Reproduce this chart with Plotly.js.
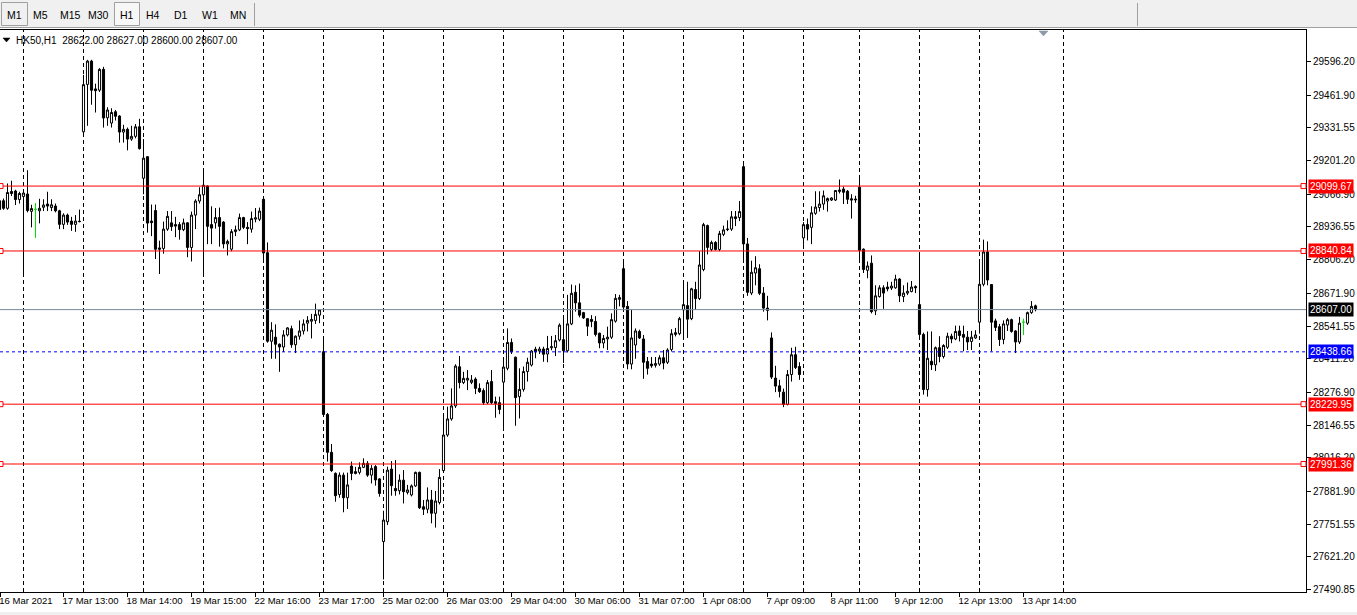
<!DOCTYPE html>
<html>
<head>
<meta charset="utf-8">
<script src="https://cdn.plot.ly/plotly-3.0.1.min.js"></script>
<style>
html,body{margin:0;padding:0;background:#ffffff;overflow:hidden}
#chart{width:1357px;height:615px}
</style>
</head>
<body>
<div id="chart"></div>
<script>
// ---- data (H1 bars, HK50, 16 Mar 2021 - 13 Apr 2021) ----
const openP = [
29041,29041,29011,29078,29080,29046,29058,29068,28999,29007,
29001,29015,29028,29014,29020,29001,28947,28984,28960,28947,
28958,29316,29505,29598,29487,29482,29565,29372,29351,29396,
29379,29315,29326,29287,29298,29336,29131,29217,28960,29002,
28853,28851,28928,28953,28946,28946,28926,28953,28855,28984,
29040,29065,29100,28946,28953,28974,28956,28869,28848,28918,
28925,28974,28935,28928,28968,28967,29047,28834,28481,28497,
28469,28458,28506,28531,28467,28501,28522,28553,28561,28564,
28585,28439,28189,28038,27954,27870,27947,27857,27983,27961,
27958,27978,27994,27947,27981,27932,27682,27761,27971,27894,
27885,27927,27878,27868,27904,27958,27821,27811,27848,27795,
27838,27965,28107,28171,28223,28379,28316,28326,28317,28330,
28293,28284,28236,28320,28240,28236,28318,28373,28476,28417,
28260,28289,28360,28386,28449,28442,28450,28430,28455,28456,
28486,28487,28443,28550,28676,28634,28595,28571,28568,28560,
28513,28474,28490,28497,28561,28648,28770,28620,28390,28466,
28520,28490,28400,28390,28385,28390,28415,28397,28448,28508,
28511,28606,28623,28571,28687,28651,28767,28942,28847,28875,
28847,28907,28926,28928,28977,28974,29177,28869,28673,28753,
28770,28673,28613,28494,28334,28303,28278,28229,28348,28427,
28380,28893,28946,28935,28991,29014,29028,29040,29044,29044,
29084,29088,29079,29049,29048,29095,28848,28764,28792,28602,
28659,28694,28697,28693,28694,28729,28659,28673,28679,28699,
28627,28508,28288,28401,28387,28455,28420,28457,28501,28490,
28522,28508,28497,28480,28494,28557,28708,28837,28707,28562,
28539,28488,28546,28567,28522,28478,28557,28553,28595,28622];
const highP = [
29045,29050,29110,29121,29085,29077,29078,29163,29025,29032,
29049,29047,29077,29047,29030,29005,28991,28990,28977,28984,
29006,29543,29603,29603,29508,29570,29575,29414,29410,29403,
29382,29344,29333,29340,29347,29368,29287,29218,29026,29026,
28882,28958,29000,29000,28977,28956,28970,28956,28998,29047,
29095,29168,29102,29019,29012,29014,28960,28886,28928,28942,
28990,28977,28956,28998,29012,29014,29048,28875,28557,28548,
28472,28525,28537,28543,28504,28564,28568,28581,28590,28631,
28607,28496,28195,28071,27958,27958,27957,27957,28001,27980,
27998,28014,28003,27987,27987,27935,27805,27981,28003,28007,
27950,27967,27908,27910,27961,27961,27848,27898,27888,27884,
27971,28184,28220,28293,28389,28422,28359,28366,28346,28337,
28313,28293,28326,28366,28260,28260,28405,28532,28492,28420,
28373,28380,28415,28446,28459,28459,28459,28502,28502,28506,
28552,28574,28666,28707,28704,28711,28598,28571,28585,28581,
28515,28506,28539,28592,28669,28666,28795,28641,28606,28532,
28527,28506,28418,28418,28418,28425,28446,28453,28529,28534,
28578,28715,28718,28694,28718,28840,28953,28946,28882,28880,
28921,28942,28963,29000,29000,29040,29193,28893,28802,28820,
28788,28697,28662,28516,28383,28327,28292,28366,28455,28459,
28397,28956,28970,29019,29079,29079,29082,29054,29055,29084,
29126,29098,29084,29067,29061,29144,28851,28799,28823,28704,
28704,28704,28718,28718,28746,28732,28704,28715,28721,28704,
28833,28515,28520,28520,28460,28501,28469,28515,28511,28543,
28543,28543,28522,28522,28525,28809,28886,28879,28708,28571,
28550,28564,28574,28571,28525,28578,28571,28599,28641,28627];
const lowP = [
29000,29005,29005,29060,29024,29030,28753,28995,28935,28893,
28951,29000,29000,29000,28995,28928,28928,28945,28921,28917,
28955,29310,29340,29424,29393,29475,29333,29340,29333,29361,
29273,29273,29242,29280,29290,29245,29067,28914,28900,28809,
28749,28830,28921,28921,28896,28886,28920,28816,28799,28928,
29030,28753,28868,28868,28930,28858,28851,28823,28840,28900,
28920,28928,28868,28914,28955,28960,28795,28475,28411,28411,
28359,28438,28500,28455,28434,28487,28508,28520,28492,28550,
28553,28188,28001,27960,27841,27857,27799,27812,27927,27950,
27950,27975,27940,27914,27905,27861,27531,27748,27865,27865,
27870,27834,27870,27862,27900,27812,27788,27795,27755,27738,
27830,27960,28100,28164,28215,28293,28310,28286,28310,28270,
28275,28227,28230,28230,28176,28190,28135,28365,28430,28144,
28173,28280,28320,28380,28413,28430,28399,28397,28445,28422,
28480,28394,28436,28545,28599,28576,28570,28502,28537,28500,
28453,28453,28446,28490,28555,28620,28610,28369,28369,28411,
28490,28331,28348,28375,28376,28383,28369,28390,28440,28500,
28505,28494,28494,28565,28606,28645,28760,28827,28840,28843,
28840,28900,28920,28921,28940,28960,28799,28662,28665,28704,
28665,28599,28564,28330,28278,28257,28218,28225,28320,28370,
28327,28865,28883,28868,28985,28998,29005,28998,29040,29040,
29070,29028,29028,28970,29033,28799,28753,28732,28592,28585,
28655,28610,28680,28685,28690,28637,28637,28665,28676,28673,
28492,28268,28260,28366,28362,28397,28412,28450,28473,28485,
28480,28441,28446,28446,28490,28511,28700,28704,28441,28522,
28462,28469,28522,28515,28434,28470,28506,28546,28590,28600];
const closeP = [
29006,29011,29074,29070,29046,29070,29072,29002,29010,29007,
29011,29024,29020,29025,29001,28947,28984,28956,28947,28960,
28959,29504,29598,29482,29480,29565,29371,29403,29393,29378,
29315,29326,29287,29298,29336,29249,29211,28952,28954,28848,
28848,28928,28979,28938,28940,28926,28953,28855,28984,29040,
29065,29103,28939,28932,28974,28939,28869,28879,28918,28925,
28974,28935,28930,28970,28973,29000,28833,28481,28525,28469,
28458,28506,28534,28467,28501,28522,28550,28564,28568,28588,
28606,28189,28038,27965,27865,27947,27857,27908,27954,27954,
27978,27994,27947,27974,27928,27874,27768,27967,27905,27885,
27927,27881,27888,27904,27958,27817,27811,27848,27795,27844,
27938,28107,28171,28223,28382,28316,28333,28333,28326,28293,
28280,28236,28316,28236,28233,28209,28378,28476,28439,28256,
28289,28360,28397,28442,28439,28450,28429,28452,28459,28483,
28545,28443,28550,28672,28634,28585,28574,28541,28560,28508,
28474,28492,28497,28567,28652,28655,28617,28390,28494,28522,
28494,28397,28373,28383,28392,28415,28394,28446,28511,28515,
28571,28627,28569,28690,28651,28785,28946,28855,28875,28847,
28910,28925,28928,28977,28970,28998,28869,28676,28756,28774,
28672,28613,28604,28338,28302,28281,28229,28348,28427,28376,
28348,28946,28928,28993,29016,29028,29061,29050,29052,29082,
29079,29075,29047,29044,29045,28844,28767,28781,28599,28662,
28694,28673,28690,28701,28729,28662,28673,28680,28697,28694,
28508,28288,28413,28387,28455,28420,28464,28501,28490,28520,
28504,28497,28478,28497,28506,28708,28837,28725,28557,28536,
28488,28550,28567,28520,28478,28553,28557,28595,28620,28607];
const firstBarIndex = -1;

// day separators (bar index of first bar of each day)
const daySeparatorBars = [5,20,35,50,65,80,95,110,125,140,155,170,185,200,214,229,244,265];

// time axis labels
const timeLabels = ["16 Mar 2021","17 Mar 13:00","18 Mar 14:00","19 Mar 15:00","22 Mar 16:00",
  "23 Mar 17:00","25 Mar 02:00","26 Mar 03:00","29 Mar 04:00","30 Mar 06:00","31 Mar 07:00",
  "1 Apr 08:00","7 Apr 09:00","8 Apr 11:00","9 Apr 12:00","12 Apr 13:00","13 Apr 14:00"];
const timeLabelBars = [-0.8,15,31,47,63,79,95,111,127,143,159,175,191,207,223,239,255];

// price axis labels
const priceTicks = [29596.20,29461.90,29331.55,29201.20,29066.90,28936.55,28806.20,28671.90,
  28541.55,28411.20,28276.90,28146.55,28016.20,27881.90,27751.55,27621.20,27490.85];

// horizontal levels
const redLevels = [29099.67, 28840.84, 28229.95, 27991.36];
const blueLevel = 28438.66;
const bidPrice = 28607.00;

const symbolHeader = "HK50,H1\u00a0\u00a028622.00 28627.00 28600.00 28607.00";
const timeframes = ["M1","M5","M15","M30","H1","H4","D1","W1","MN"];

// ---- geometry ----
const PL = 0, PR = 1306, PT = 30, PB = 592;
const px = x => (x - PL) / (PR - PL);
const py = y => (PB - y) / (PB - PT);
const FONT = "Liberation Sans, Arial, sans-serif";

// split normal candles and doji
const nx=[],no=[],nh=[],nl=[],nc=[], dx=[],dop=[],dh=[],dl=[],dc=[];
openP.forEach((o,i)=>{
  const x = firstBarIndex + i;
  if (o === closeP[i]) { dx.push(x); dop.push(o); dh.push(highP[i]); dl.push(lowP[i]); dc.push(closeP[i]); }
  else { nx.push(x); no.push(o); nh.push(highP[i]); nl.push(lowP[i]); nc.push(closeP[i]); }
});

const traces = [
  {type:'candlestick', x:nx, open:no, high:nh, low:nl, close:nc, whiskerwidth:0,
   increasing:{line:{color:'#000000',width:1}, fillcolor:'#ffffff'},
   decreasing:{line:{color:'#000000',width:1}, fillcolor:'#000000'},
   showlegend:false, hoverinfo:'skip'},
  {type:'candlestick', x:dx, open:dop, high:dh, low:dl, close:dc, whiskerwidth:0,
   increasing:{line:{color:'#00e000',width:1}, fillcolor:'#00e000'},
   decreasing:{line:{color:'#00e000',width:1}, fillcolor:'#00e000'},
   showlegend:false, hoverinfo:'skip'}
];

const shapes = [];
const annotations = [];

// toolbar
shapes.push({type:'rect', xref:'paper', yref:'paper', x0:px(0), x1:px(1357), y0:py(27), y1:py(0),
  fillcolor:'#f0f0f0', line:{width:0}, layer:'below'});
shapes.push({type:'line', xref:'paper', yref:'paper', x0:px(0), x1:px(1357), y0:py(27.5), y1:py(27.5),
  line:{color:'#a0a0a0', width:1}});
shapes.push({type:'rect', xref:'paper', yref:'paper', x0:px(1.5), x1:px(27.5), y0:py(25.5), y1:py(2.5),
  fillcolor:'#f0f0f0', line:{color:'#a0a0a0', width:1}});
shapes.push({type:'rect', xref:'paper', yref:'paper', x0:px(114.5), x1:px(139.5), y0:py(25.5), y1:py(2.5),
  fillcolor:'#f7f7f7', line:{color:'#a0a0a0', width:1}});
shapes.push({type:'line', xref:'paper', yref:'paper', x0:px(254.5), x1:px(254.5), y0:py(3), y1:py(26),
  line:{color:'#a0a0a0', width:1}});
shapes.push({type:'line', xref:'paper', yref:'paper', x0:px(1137.5), x1:px(1137.5), y0:py(3), y1:py(26),
  line:{color:'#a0a0a0', width:1}});
const tfX = [14,41,70,98,127,153,181,210,238];
timeframes.forEach((t,i)=>annotations.push({xref:'paper', yref:'paper', x:px(tfX[i]), y:py(15),
  xanchor:'center', yanchor:'middle', text:t, showarrow:false,
  font:{family:FONT, size:10.5, color:'#000000'}}));
// bottom strip
shapes.push({type:'rect', xref:'paper', yref:'paper', x0:px(0), x1:px(1357), y0:py(615), y1:py(612),
  fillcolor:'#f0f0f0', line:{width:0}});

// day separators
daySeparatorBars.forEach(b=>shapes.push({type:'line', xref:'x', yref:'paper', x0:b, x1:b, y0:0, y1:1,
  line:{color:'#000000', width:1, dash:'4px,3px'}, layer:'below'}));

// horizontal levels
redLevels.forEach(v=>{
  shapes.push({type:'line', xref:'paper', yref:'y', x0:0, x1:1, y0:v, y1:v, line:{color:'#ff0000', width:1}});
  shapes.push({type:'rect', xref:'paper', yref:'y', x0:px(-2), x1:px(3), y0:v-10, y1:v+10,
    fillcolor:'#ffffff', line:{color:'#ff0000', width:1}});
  shapes.push({type:'rect', xref:'paper', yref:'y', x0:px(1301), x1:px(1306), y0:v-10, y1:v+10,
    fillcolor:'#ffffff', line:{color:'#ff0000', width:1}});
  annotations.push({xref:'paper', yref:'y', x:px(1308), y:v, xanchor:'left', yanchor:'middle',
    text:v.toFixed(2), showarrow:false, bgcolor:'#ff0000', borderpad:1,
    font:{family:FONT, size:10, color:'#ffffff'}});
});
shapes.push({type:'line', xref:'paper', yref:'y', x0:0, x1:1, y0:bidPrice, y1:bidPrice,
  line:{color:'#778899', width:1}});
annotations.push({xref:'paper', yref:'y', x:px(1308), y:bidPrice, xanchor:'left', yanchor:'middle',
  text:bidPrice.toFixed(2), showarrow:false, bgcolor:'#000000', borderpad:1,
  font:{family:FONT, size:10, color:'#ffffff'}});
shapes.push({type:'line', xref:'paper', yref:'y', x0:0, x1:1, y0:blueLevel, y1:blueLevel,
  line:{color:'#0000ff', width:1, dash:'3px,3px'}});
annotations.push({xref:'paper', yref:'y', x:px(1308), y:blueLevel, xanchor:'left', yanchor:'middle',
  text:blueLevel.toFixed(2), showarrow:false, bgcolor:'#0000ff', borderpad:1,
  font:{family:FONT, size:10, color:'#ffffff'}});

// header
shapes.push({type:'path', xref:'paper', yref:'paper',
  path:`M${px(3)},${py(38)} L${px(10)},${py(38)} L${px(6.5)},${py(42)} Z`,
  fillcolor:'#000000', line:{color:'#000000', width:0.5}});
annotations.push({xref:'paper', yref:'paper', x:px(14), y:py(40), xanchor:'left', yanchor:'middle',
  text:symbolHeader, showarrow:false, font:{family:FONT, size:10, color:'#000000'}});
// chart shift marker
shapes.push({type:'path', xref:'paper', yref:'paper',
  path:`M${px(1039)},${py(31)} L${px(1048)},${py(31)} L${px(1043.5)},${py(36)} Z`,
  fillcolor:'#8c9aa8', line:{color:'#8c9aa8', width:0.5}});

const layout = {
  width:1357, height:615,
  margin:{l:PL, r:1357-PR, t:PT, b:615-PB, pad:0},
  paper_bgcolor:'#ffffff', plot_bgcolor:'#ffffff',
  showlegend:false, boxgap:0.25,
  xaxis:{range:[-0.875, 325.625], showgrid:false, zeroline:false, showline:true, mirror:true,
    linecolor:'#000000', linewidth:1, tickmode:'array', tickvals:timeLabelBars, ticktext:timeLabels,
    ticks:'outside', ticklen:4, tickcolor:'#000000', ticklabelposition:'outside right', tickangle:0,
    ticklabeloverflow:'allow', ticklabelshift:-2,
    tickfont:{family:FONT, size:9.5, color:'#000000'}, rangeslider:{visible:false}, fixedrange:true},
  yaxis:{range:[27481, 29722], side:'right', showgrid:false, zeroline:false, showline:true, mirror:true,
    linecolor:'#000000', linewidth:1, tickmode:'array', tickvals:priceTicks,
    ticktext:priceTicks.map(v=>v.toFixed(2)), ticks:'outside', ticklen:4, tickcolor:'#000000',
    tickfont:{family:FONT, size:10, color:'#000000'}, fixedrange:true},
  shapes:shapes, annotations:annotations
};

Plotly.newPlot('chart', traces, layout, {staticPlot:true, displayModeBar:false});
</script>
</body>
</html>
